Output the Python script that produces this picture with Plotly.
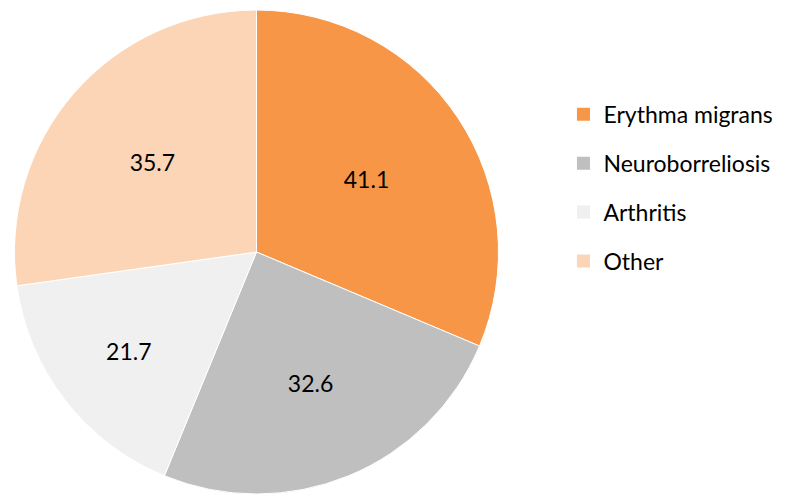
import plotly.graph_objects as go

categories = ["Erythma migrans", "Neuroborreliosis", "Arthritis", "Other"]
values = [41.1, 32.6, 21.7, 35.7]
colors = ["#F79646", "#BFBFBF", "#F0F0F0", "#FBD5B5"]

FONT = "Lato, Open Sans, sans-serif"

fig = go.Figure()
fig.add_trace(go.Pie(
    labels=categories, values=values, sort=False, direction="clockwise",
    rotation=0, marker=dict(colors=colors, line=dict(color="white", width=1)),
    texttemplate="%{value:.1f}", textposition="inside",
    insidetextorientation="horizontal",
    textfont=dict(family=FONT, size=23, color="black"),
    showlegend=False, hoverinfo="label+value",
    domain=dict(x=[6/789, 491/789], y=[10/496, 494/496]),
))

for i, (c, col) in enumerate(zip(categories, colors)):
    fig.add_trace(go.Scatter(
        x=[None], y=[None], mode="markers", name=c,
        marker=dict(symbol="square", size=13, color=col),
        legendgroup=f"g{i}", showlegend=True,
    ))

fig.update_layout(
    width=789, height=496,
    margin=dict(l=0, r=0, t=0, b=0),
    paper_bgcolor="white", plot_bgcolor="white",
    xaxis=dict(visible=False), yaxis=dict(visible=False),
    legend=dict(x=0.704, y=0.829, xanchor="left", yanchor="top",
                font=dict(family=FONT, size=23, color="black"),
                tracegroupgap=16, itemwidth=30, traceorder="grouped"),
)
fig.write_html("out.html")
